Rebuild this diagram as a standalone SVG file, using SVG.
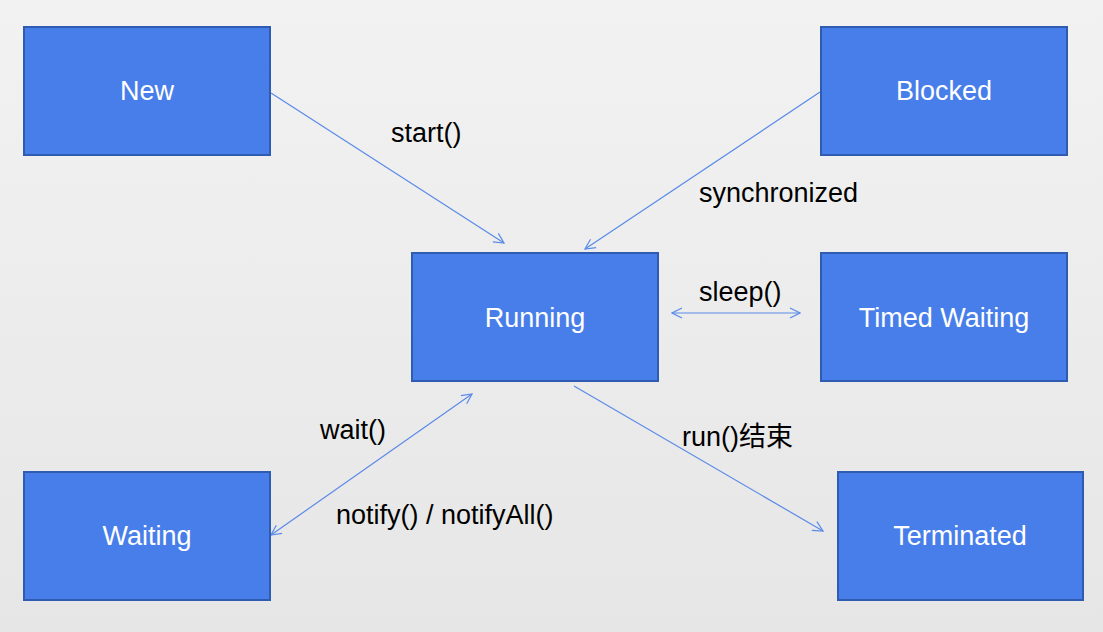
<svg xmlns="http://www.w3.org/2000/svg" width="1103" height="632" viewBox="0 0 1103 632">
<style>
.box{fill:#487ee9;stroke:#2f5bb0;stroke-width:2}
.nt{font-family:"Liberation Sans",Arial,sans-serif;font-size:27px;fill:#ffffff;text-anchor:middle}
.lb{font-family:"Liberation Sans",Arial,"Noto Sans CJK SC",sans-serif;font-size:27px;fill:#000000}
.ln{stroke:#5a8ae8;stroke-width:1.2;fill:none}
</style>
<defs>
<linearGradient id="bg" x1="0" y1="0" x2="0" y2="1">
<stop offset="0" stop-color="#f2f2f2"/>
<stop offset="1" stop-color="#e6e6e6"/>
</linearGradient>
<marker id="ah" viewBox="0 0 12 12" refX="11" refY="6" markerWidth="12" markerHeight="12" markerUnits="userSpaceOnUse" orient="auto-start-reverse">
<path d="M1,1 L11,6 L1,11" fill="none" stroke="#5a8ae8" stroke-width="1.2"/>
</marker>
</defs>
<rect x="0" y="0" width="1103" height="632" fill="url(#bg)"/>
<g id="connectors">
<line class="ln" x1="271" y1="93" x2="504" y2="243" marker-end="url(#ah)"/>
<line class="ln" x1="820" y1="92" x2="585" y2="249" marker-end="url(#ah)"/>
<line class="ln" x1="672" y1="313" x2="800" y2="313" marker-start="url(#ah)" marker-end="url(#ah)"/>
<line class="ln" x1="472" y1="394" x2="271" y2="535" marker-start="url(#ah)" marker-end="url(#ah)"/>
<line class="ln" x1="574" y1="386" x2="823" y2="531" marker-end="url(#ah)"/>
<text class="lb" x="391" y="142">start()</text>
<text class="lb" x="699" y="202">synchronized</text>
<text class="lb" x="699" y="301">sleep()</text>
<text class="lb" x="320" y="439">wait()</text>
<text class="lb" x="336" y="524">notify() / notifyAll()</text>
<text class="lb" x="682" y="446">run()结束</text>
</g>
<g id="node-new"><rect class="box" x="24" y="27" width="246" height="128"/><text class="nt" x="147" y="100">New</text></g>
<g id="node-blocked"><rect class="box" x="821" y="27" width="246" height="128"/><text class="nt" x="944" y="100">Blocked</text></g>
<g id="node-running"><rect class="box" x="412" y="253" width="246" height="128"/><text class="nt" x="535" y="327">Running</text></g>
<g id="node-timed-waiting"><rect class="box" x="821" y="253" width="246" height="128"/><text class="nt" x="944" y="327">Timed Waiting</text></g>
<g id="node-waiting"><rect class="box" x="24" y="472" width="246" height="128"/><text class="nt" x="147" y="545">Waiting</text></g>
<g id="node-terminated"><rect class="box" x="838" y="472" width="245" height="128"/><text class="nt" x="960" y="545">Terminated</text></g>
</svg>
